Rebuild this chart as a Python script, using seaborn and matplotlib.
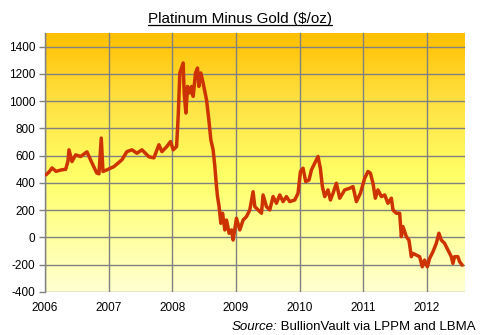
import numpy as np
import pandas as pd
import matplotlib
matplotlib.use("Agg")
import matplotlib.pyplot as plt
from matplotlib.colors import LinearSegmentedColormap
from matplotlib.lines import Line2D
import seaborn as sns

title = "Platinum Minus Gold ($/oz)"
source_label = "Source:"
source_text = " BullionVault via LPPM and LBMA"
year_ticks = [2006, 2007, 2008, 2009, 2010, 2011, 2012]
value_ticks = [-400, -200, 0, 200, 400, 600, 800, 1000, 1200, 1400]

dates = [
    2006.016, 2006.063, 2006.110, 2006.173, 2006.251, 2006.325, 2006.361, 2006.377,
    2006.424, 2006.482, 2006.560, 2006.659, 2006.738, 2006.812, 2006.848, 2006.884,
    2006.911, 2006.973, 2007.083, 2007.209, 2007.287, 2007.366, 2007.444, 2007.523,
    2007.633, 2007.711, 2007.790, 2007.837, 2007.915, 2007.973, 2008.014, 2008.068,
    2008.093, 2008.119, 2008.171, 2008.187, 2008.214, 2008.240, 2008.276, 2008.303,
    2008.328, 2008.366, 2008.397, 2008.418, 2008.449, 2008.485, 2008.538, 2008.575,
    2008.606, 2008.642, 2008.658, 2008.669, 2008.695, 2008.711, 2008.736, 2008.763,
    2008.790, 2008.826, 2008.852, 2008.893, 2008.931, 2008.956, 2009.009, 2009.061,
    2009.113, 2009.166, 2009.218, 2009.270, 2009.297, 2009.349, 2009.402, 2009.427,
    2009.480, 2009.532, 2009.584, 2009.637, 2009.689, 2009.741, 2009.794, 2009.846,
    2009.925, 2009.976, 2010.014, 2010.055, 2010.097, 2010.149, 2010.187, 2010.239,
    2010.290, 2010.327, 2010.359, 2010.396, 2010.447, 2010.485, 2010.526, 2010.579,
    2010.631, 2010.710, 2010.788, 2010.840, 2010.893, 2010.956, 2011.024, 2011.075,
    2011.113, 2011.154, 2011.191, 2011.232, 2011.286, 2011.338, 2011.389, 2011.443,
    2011.468, 2011.521, 2011.573, 2011.600, 2011.625, 2011.678, 2011.719, 2011.757,
    2011.782, 2011.835, 2011.887, 2011.929, 2011.965, 2012.008, 2012.044, 2012.096,
    2012.149, 2012.190, 2012.228, 2012.279, 2012.332, 2012.385, 2012.410, 2012.436,
    2012.488, 2012.515, 2012.557,
]
spread = [
    460, 480, 510, 485, 495, 500, 560, 643,
    557, 606, 594, 628, 547, 474, 467, 729,
    484, 496, 520, 570, 630, 643, 618, 643,
    592, 584, 680, 630, 667, 704, 643, 667,
    888, 1207, 1280, 1060, 913, 1108, 1060, 1108,
    1035, 1207, 1243, 1108, 1207, 1133, 1010, 863,
    716, 643, 569, 520, 373, 300, 226, 104,
    178, 55, 128, 31, 55, -19, 141, 55,
    128, 153, 202, 336, 226, 202, 178, 312,
    226, 202, 300, 251, 312, 263, 300, 263,
    275, 324, 484, 508, 410, 422, 496, 545,
    594, 508, 373, 300, 349, 275, 324, 398,
    288, 349, 361, 373, 263, 324, 435, 484,
    472, 398, 288, 349, 300, 312, 251, 288,
    202, 178, 178, 6, 80, 6, -19, -141,
    -117, -129, -141, -215, -166, -215, -154, -105,
    -43, 31, -19, -43, -92, -141, -190, -141,
    -141, -178, -203,
]

df = pd.DataFrame({"date": dates, "spread": spread})

sns.set_theme(style="white")
plt.rcParams["font.family"] = ["Liberation Sans", "DejaVu Sans"]

fig = plt.figure(figsize=(4.8, 3.35), dpi=100)
ax = fig.add_axes([45 / 480, 1 - 292 / 335, 420 / 480, 259 / 335])

xmin, xmax, ymin, ymax = 2006, 2012.6, -400, 1500

# gradient background
cmap = LinearSegmentedColormap.from_list(
    "bg", [(0.0, "#FFFFD2"), (0.45, "#FFFF66"), (0.75, "#FFE040"), (1.0, "#FFC000")])
grad = np.linspace(0, 1, 256).reshape(-1, 1)
ax.imshow(grad, aspect="auto", cmap=cmap, origin="lower",
          extent=[xmin, xmax, ymin, ymax], zorder=0)

sns.lineplot(data=df, x="date", y="spread", ax=ax, color="#CC3300",
             linewidth=2.5, zorder=3)

ax.set_xlim(xmin, xmax)
ax.set_ylim(ymin, ymax)
ax.set_xticks(year_ticks)
ax.set_xticklabels([str(y) for y in year_ticks])
ax.set_yticks(value_ticks)
ax.set_yticklabels([str(v) for v in value_ticks])
ax.grid(True, color="#808080", linewidth=1.0, zorder=1)
ax.set_axisbelow(False)
for sp in ["top", "right", "bottom"]:
    ax.spines[sp].set_visible(False)
ax.spines["left"].set_color("#808080")
ax.spines["left"].set_linewidth(1.0)
ax.tick_params(axis="y", left=True, length=4, width=1, color="#808080",
               pad=3, labelsize=8.5, labelcolor="black")
ax.tick_params(axis="x", bottom=False, length=0, pad=7, labelsize=8.5,
               labelcolor="black")
ax.set_xlabel("")
ax.set_ylabel("")

# title with underline
t = fig.text(0.5, 1 - 19 / 335, title, ha="center", va="center",
             fontsize=11, color="black")
st = fig.text(476 / 480, 1 - 327 / 335, source_text, ha="right", va="center",
              fontsize=9.5, color="black")
fig.canvas.draw()
r = fig.canvas.get_renderer()
bb = t.get_window_extent(r)
yline = (bb.y0 + 1) / fig.bbox.height
fig.add_artist(Line2D([bb.x0 / fig.bbox.width, bb.x1 / fig.bbox.width],
                      [yline, yline], color="black", linewidth=0.9,
                      transform=fig.transFigure))
sb = st.get_window_extent(r)
fig.text(sb.x0 / fig.bbox.width, 1 - 327 / 335, source_label, ha="right",
         va="center", fontsize=9.5, style="italic", color="black")

fig.savefig("out.png", dpi=100)
